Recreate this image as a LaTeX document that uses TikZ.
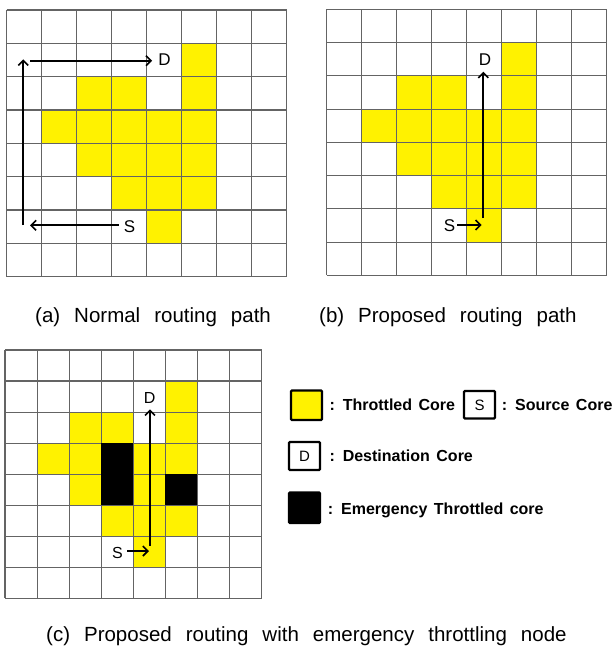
\documentclass[tikz,border=0pt]{standalone}
\usepackage{fontspec}
\setmainfont{Liberation Sans}
\usetikzlibrary{arrows.meta}
\definecolor{gridgray}{RGB}{100,100,100}
\newcommand{\meshgrid}[4]{%
  \foreach \c/\r in {5/1,2/2,3/2,5/2,1/3,2/3,3/3,4/3,5/3,2/4,3/4,4/4,5/4,3/5,4/5,5/5,4/6}
    \fill[yellow] ({#1+\c*#3},{#2+\r*#4}) rectangle ++(#3,#4);
  \foreach \i in {0,...,8} {
    \draw[gridline] ({#1+\i*#3},#2) -- ++(0,{8*#4});
    \draw[gridline] (#1,{#2+\i*#4}) -- ++({8*#3},0);
  }%
}
\begin{document}
\begin{tikzpicture}[x=1pt,y=-1pt,
  gridline/.style={draw=gridgray,line width=1.1pt},
  arr/.style={-{Straight Barb[length=5pt,width=10pt,line width=1.6pt]},line width=1.7pt,black},
  lbl/.style={inner sep=0pt,font=\fontsize{17}{17}\selectfont},
  lblc/.style={inner sep=0pt,font=\fontsize{16}{16}\selectfont},
  legtext/.style={inner sep=0pt,anchor=base west,font=\fontsize{16}{16}\selectfont\bfseries},
  legbox/.style={line width=2.2pt,rounded corners=1pt},
  captext/.style={inner sep=0pt,anchor=base west,font=\fontsize{20.5}{20.5}\selectfont}]
\fill[white] (0,0) rectangle (614,648);
\useasboundingbox (0,0) rectangle (614,648);

% (a)
\meshgrid{6.7}{10}{35}{33.33}
\node[lbl] (Da) at (164.5,60) {D};
\node[lbl] (Sa) at (129.5,226.5) {S};
\coordinate (a1) at (30,225.3);
\coordinate (a2) at (23.3,225);
\coordinate (a3) at (23.3,59.3);
\coordinate (a4) at (30,60.7);
\draw[arr] ([xshift=-5pt,yshift=1.2pt]Sa.west) -- (a1);
\draw[arr] (a2) -- (a3);
\draw[arr] (a4) -- ([xshift=-6pt]Da.west |- a4);

% (b)
\meshgrid{326.7}{9.3}{35}{33.25}
\node[lbl] (Db) at (485,59.5) {D};
\node[lbl] (Sb) at (449.5,226) {S};
\coordinate (b1) at (483.3,218);
\coordinate (b2) at (483.3,71.7);
\coordinate (b3) at (481.7,225);
\draw[arr] (b1) -- (b2);
\draw[arr] ([xshift=2pt,yshift=1pt]Sb.east) -- (b3);

% (c)
\meshgrid{5}{350}{32.08}{31.04}
\foreach \c/\r in {3/3,3/4,5/4}
  \fill[black] ({5+\c*32.08},{350+\r*31.04}) rectangle ++(32.08,31.04);
\node[lblc] (Dc) at (149.7,397.5) {D};
\node[lblc] (Sc) at (117.5,552.5) {S};
\coordinate (c1) at (150,546);
\coordinate (c2) at (150,409.3);
\coordinate (c3) at (149,551);
\draw[arr] (c1) -- (c2);
\draw[arr] ([xshift=4pt,yshift=1.5pt]Sc.east) -- (c3);

% legend
\draw[legbox,fill=yellow] (291,390.5) rectangle (322,420);
\node[legtext] (lt) at (329.3,410) {\spaceskip=6.5pt : Throttled Core};
\draw[legbox,fill=white] (464,391) rectangle (495,418.5);
\node[inner sep=0pt,font=\fontsize{15}{15}\selectfont] (ls) at (479.5,405) {S};
\node[legtext] (lst) at (501.7,410) {\spaceskip=6.5pt : Source Core};
\draw[legbox,fill=white] (289,442) rectangle (320,470);
\node[inner sep=0pt,font=\fontsize{15}{15}\selectfont] (ld) at (304.5,456) {D};
\node[legtext] (ldt) at (329.3,461.7) {\spaceskip=6.5pt : Destination Core};
\draw[legbox,fill=black] (289,492.5) rectangle (320,523);
\node[legtext] (let) at (327.7,514) {\spaceskip=6.5pt : Emergency Throttled core};

% captions
\node[captext] (capa) at (35,322) {\spaceskip=14pt (a) Normal routing path};
\node[captext] (capb) at (319,322) {\spaceskip=14pt (b) Proposed routing path};
\node[captext] (capc) at (46,641) {\spaceskip=14pt (c) Proposed routing with emergency throttling node};
\end{tikzpicture}
\end{document}
